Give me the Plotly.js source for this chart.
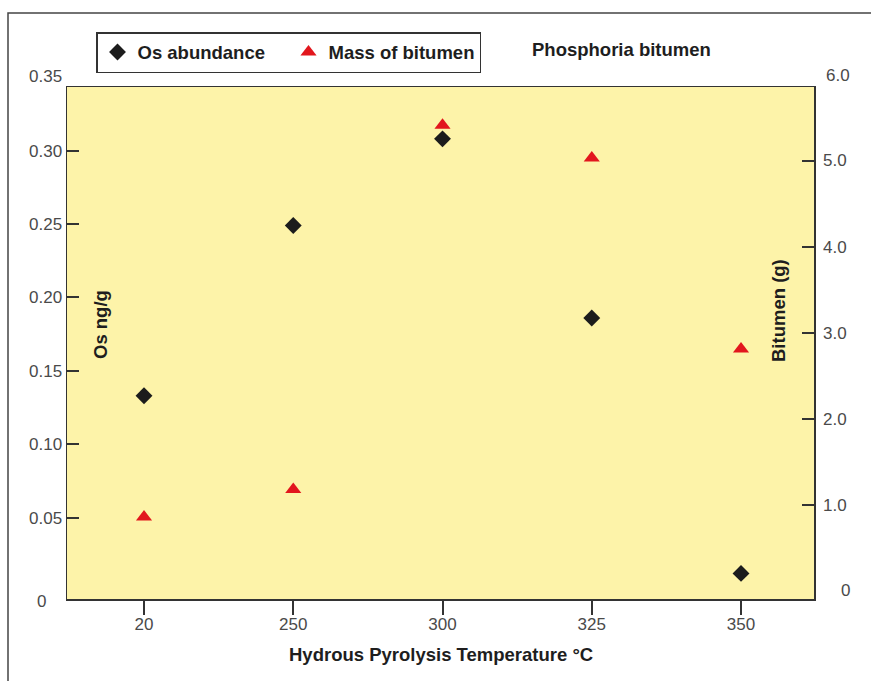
<!DOCTYPE html>
<html>
<head>
<meta charset="utf-8">
<script src="https://cdn.plot.ly/plotly-3.0.1.min.js"></script>
<style>html,body{margin:0;padding:0;background:#fff;}#chart{width:871px;height:681px;}</style>
</head>
<body>
<div id="chart"></div>
<script>
// Data
var temperatures = ['20', '250', '300', '325', '350'];
var osAbundance = [0.133, 0.249, 0.308, 0.186, 0.012];   // Os ng/g (left axis)
var bitumenMass = [0.86, 1.18, 5.41, 5.03, 2.81];        // Bitumen (g) (right axis)
var leftTicks = [0.05, 0.10, 0.15, 0.20, 0.25, 0.30];
var rightTicks = [1, 2, 3, 4, 5];

// layout helpers (pixel -> paper)
var L = 67, R = 814, T = 87, B = 599;
function px(x) { return (x - L) / (R - L); }
function py(y) { return (B - y) / (B - T); }

var tickFont = {family: 'Liberation Sans, Arial, sans-serif', size: 17, color: '#4a4a4a'};
var boldFont = {family: 'Liberation Sans, Arial, sans-serif', size: 18.5, color: '#1e1e1e', weight: 'bold'};

var traces = [
  {
    x: temperatures, y: osAbundance, name: 'Os abundance', type: 'scatter', mode: 'markers',
    marker: {symbol: 'diamond', size: 13, color: '#1c1c1c'}, yaxis: 'y'
  },
  {
    x: temperatures, y: bitumenMass, name: 'Mass of bitumen', type: 'scatter', mode: 'markers',
    marker: {symbol: 'triangle-up', size: 14, color: '#e2161d'}, yaxis: 'y2'
  }
];

var layout = {
  width: 871, height: 681,
  margin: {l: L, r: 871 - R, t: T, b: 681 - B, pad: 0},
  paper_bgcolor: '#ffffff',
  plot_bgcolor: '#fdf3a9',
  showlegend: true,
  legend: {
    orientation: 'h', x: px(96), y: py(32), xanchor: 'left', yanchor: 'top',
    bgcolor: '#ffffff', bordercolor: '#333333', borderwidth: 1.5,
    font: boldFont, itemclick: false, entrywidth: 146, entrywidthmode: 'pixels'
  },
  xaxis: {
    type: 'category', categoryorder: 'array', categoryarray: temperatures,
    range: [-0.516, 4.489], showgrid: false, zeroline: false,
    showline: true, mirror: true, linecolor: '#333333', linewidth: 1.5,
    ticks: 'outside', ticklen: 14, tickwidth: 2, tickcolor: '#333333',
    ticklabelstandoff: -5,
    tickfont: tickFont, fixedrange: true
  },
  yaxis: {
    range: [-(B - 591) / 1468, (591 - T) / 1468],
    tickvals: leftTicks, tickformat: '.2f', showgrid: false, zeroline: false,
    showline: true, mirror: true, linecolor: '#333333', linewidth: 1.5,
    ticks: 'inside', ticklen: 12, tickwidth: 2, tickcolor: '#333333',
    tickfont: tickFont, fixedrange: true
  },
  yaxis2: {
    overlaying: 'y', side: 'right',
    range: [-(B - 591) / 86.1, (591 - T) / 86.1],
    tickvals: rightTicks, tickformat: '.1f', showgrid: false, zeroline: false,
    showline: false,
    ticks: 'inside', ticklen: 12, tickwidth: 2, tickcolor: '#333333',
    ticklabelstandoff: 8,
    tickfont: tickFont, fixedrange: true
  },
  shapes: [
    {type: 'rect', xref: 'paper', yref: 'paper', x0: px(8), x1: px(895), y0: py(720), y1: py(13),
     line: {color: '#444444', width: 1.5}, fillcolor: 'rgba(0,0,0,0)', layer: 'below'}
  ],
  annotations: [
    {text: '0.35', xref: 'paper', yref: 'paper', x: px(64), y: py(76), xanchor: 'right', yanchor: 'middle', showarrow: false, font: tickFont},
    {text: '0', xref: 'paper', yref: 'paper', x: px(41), y: py(601), xanchor: 'center', yanchor: 'middle', showarrow: false, font: tickFont},
    {text: '6.0', xref: 'paper', yref: 'paper', x: px(824), y: py(75), xanchor: 'left', yanchor: 'middle', showarrow: false, font: tickFont},
    {text: '0', xref: 'paper', yref: 'paper', x: px(845), y: py(590), xanchor: 'center', yanchor: 'middle', showarrow: false, font: tickFont},
    {text: 'Os ng/g', xref: 'paper', yref: 'paper', x: px(100), y: py(325), xanchor: 'center', yanchor: 'middle', textangle: -90, showarrow: false, font: boldFont},
    {text: 'Bitumen (g)', xref: 'paper', yref: 'paper', x: px(778), y: py(311), xanchor: 'center', yanchor: 'middle', textangle: -90, showarrow: false, font: boldFont},
    {text: 'Phosphoria bitumen', xref: 'paper', yref: 'paper', x: px(621), y: py(49), xanchor: 'center', yanchor: 'middle', showarrow: false, font: boldFont},
    {text: 'Hydrous Pyrolysis Temperature °C', xref: 'paper', yref: 'paper', x: px(441), y: py(654), xanchor: 'center', yanchor: 'middle', showarrow: false, font: boldFont}
  ]
};

Plotly.newPlot('chart', traces, layout, {staticPlot: true, displayModeBar: false});
</script>
</body>
</html>
